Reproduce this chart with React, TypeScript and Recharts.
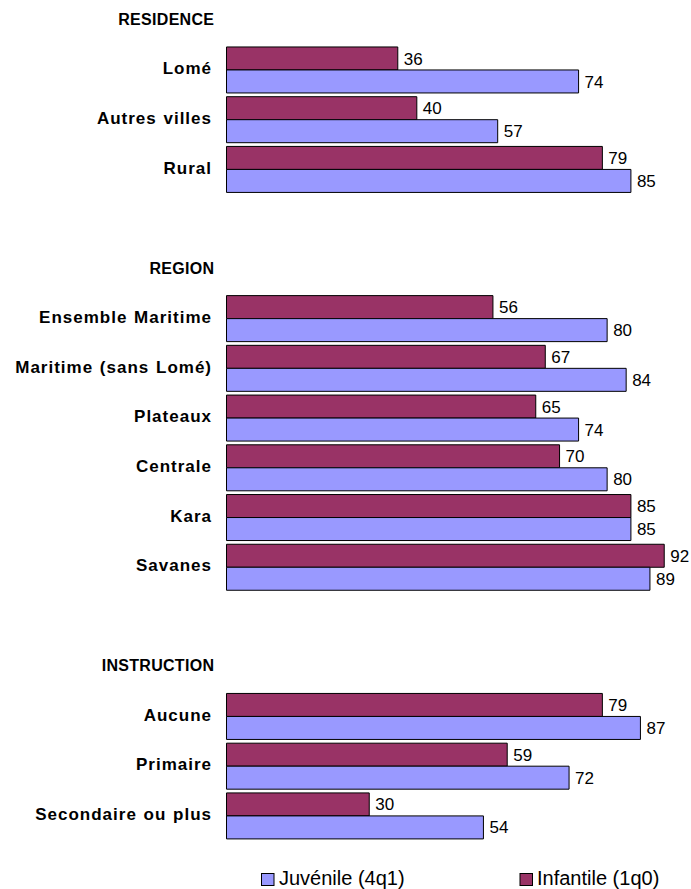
import React from 'react';
import { BarChart, Bar, XAxis, YAxis, LabelList, Legend } from 'recharts';

const FONT = '"Liberation Sans", Arial, Helvetica, sans-serif';
const INFANTILE_COLOR = '#993366';
const JUVENILE_COLOR = '#9999FF';

// Section titles and their categories
const sectionTitles = ['RESIDENCE', 'REGION', 'INSTRUCTION'];

const residenceCats = ['Lomé', 'Autres villes', 'Rural'];
const residenceInfantile = [36, 40, 79];
const residenceJuvenile = [74, 57, 85];

const regionCats = ['Ensemble Maritime', 'Maritime (sans Lomé)', 'Plateaux', 'Centrale', 'Kara', 'Savanes'];
const regionInfantile = [56, 67, 65, 70, 85, 92];
const regionJuvenile = [80, 84, 74, 80, 85, 89];

const instructionCats = ['Aucune', 'Primaire', 'Secondaire ou plus'];
const instructionInfantile = [79, 59, 30];
const instructionJuvenile = [87, 72, 54];

const legendLabels = { juvenile: 'Juvénile (4q1)', infantile: 'Infantile (1q0)' };

type Row = { name: string; infantile: number | null; juvenile: number | null };

const sections = [
  { title: sectionTitles[0], cats: residenceCats, inf: residenceInfantile, juv: residenceJuvenile },
  { title: sectionTitles[1], cats: regionCats, inf: regionInfantile, juv: regionJuvenile },
  { title: sectionTitles[2], cats: instructionCats, inf: instructionInfantile, juv: instructionJuvenile },
];

// One row per category, with a title row per section and a spacer row between sections
const rows: Row[] = [];
sections.forEach((s, i) => {
  if (i > 0) rows.push({ name: '', infantile: null, juvenile: null });
  rows.push({ name: s.title, infantile: null, juvenile: null });
  s.cats.forEach((c, j) => rows.push({ name: c, infantile: s.inf[j], juvenile: s.juv[j] }));
});

const CategoryTick = (props: any) => {
  const { x, y, payload } = props;
  const label: string = payload?.value ?? '';
  if (!label) return null;
  const isTitle = sectionTitles.includes(label);
  if (isTitle) {
    return (
      <text
        x={x - 12.2}
        y={y + 5}
        textAnchor="end"
        fontFamily={FONT}
        fontWeight="bold"
        fontSize={16}
        letterSpacing={0.3}
        fill="#000"
      >
        {label}
      </text>
    );
  }
  return (
    <text
      x={x - 14.5}
      y={y + 4.6}
      textAnchor="end"
      fontFamily={FONT}
      fontWeight="bold"
      fontSize={17}
      letterSpacing={1}
      wordSpacing={1}
      fill="#000"
    >
      {label}
    </text>
  );
};

const LegendContent = () => (
  <svg width={691} height={28} style={{ display: 'block' }}>
    <rect x={261.5} y={12.5} width={12.5} height={12} fill={JUVENILE_COLOR} stroke="#000" strokeWidth={1} />
    <text x={279} y={24.3} fontFamily={FONT} fontSize={20} fill="#000">
      {legendLabels.juvenile}
    </text>
    <rect x={520} y={12.5} width={12.5} height={12} fill={INFANTILE_COLOR} stroke="#000" strokeWidth={1} />
    <text x={537} y={24.3} fontFamily={FONT} fontSize={20} fill="#000">
      {legendLabels.infantile}
    </text>
  </svg>
);

export default function App() {
  return (
    <div style={{ position: 'absolute', left: 0, top: -5, width: 691, height: 894, background: '#fff' }}>
      <BarChart
        width={691}
        height={894}
        data={rows}
        layout="vertical"
        margin={{ top: 0, right: 12.5, bottom: 48.6, left: 0 }}
        barCategoryGap="4.5%"
        barGap={0}
      >
        <XAxis type="number" domain={[0, 95]} hide />
        <YAxis
          type="category"
          dataKey="name"
          width={226.5}
          axisLine={false}
          tickLine={false}
          tickSize={0}
          tickMargin={0}
          interval={0}
          tick={<CategoryTick />}
        />
        <Bar dataKey="infantile" name={legendLabels.infantile} fill={INFANTILE_COLOR} stroke="#000" strokeWidth={1} isAnimationActive={false}>
          <LabelList dataKey="infantile" position="right" offset={6} fill="#000" fontFamily={FONT} fontSize={17} />
        </Bar>
        <Bar dataKey="juvenile" name={legendLabels.juvenile} fill={JUVENILE_COLOR} stroke="#000" strokeWidth={1} isAnimationActive={false}>
          <LabelList dataKey="juvenile" position="right" offset={6} fill="#000" fontFamily={FONT} fontSize={17} />
        </Bar>
        <Legend
          layout="horizontal"
          verticalAlign="middle"
          align="center"
          wrapperStyle={{ left: 0, top: 866, width: 691, height: 28 }}
          content={<LegendContent />}
        />
      </BarChart>
    </div>
  );
}
